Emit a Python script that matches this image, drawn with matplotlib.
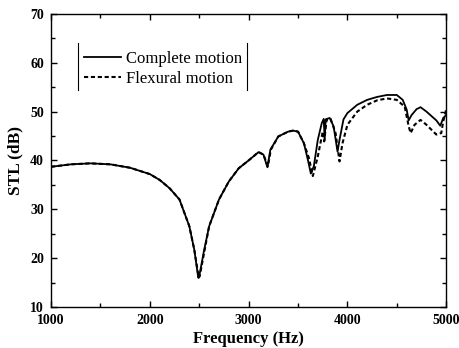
import matplotlib
matplotlib.use("Agg")
import matplotlib.pyplot as plt
from matplotlib.ticker import MultipleLocator
from matplotlib.lines import Line2D

# Complete motion
freq_c = [1000, 1200, 1400, 1600, 1800, 2000, 2100, 2200, 2300, 2400, 2450, 2490, 2500,
          2550, 2600, 2700, 2800, 2900, 3000, 3100, 3150, 3190, 3220, 3300, 3400, 3450,
          3500, 3560, 3600, 3630, 3660, 3700, 3740, 3760, 3770, 3780, 3820, 3860, 3900,
          3920, 3960, 4000, 4100, 4200, 4300, 4400, 4500, 4560, 4600, 4620, 4650, 4700,
          4740, 4800, 4900, 4940, 4970, 5000]
stl_c = [38.7, 39.2, 39.4, 39.2, 38.5, 37.2, 36.0, 34.3, 32.0, 26.5, 21.7, 16.0, 16.3,
         21.7, 26.5, 32.0, 35.7, 38.4, 40.0, 41.7, 41.2, 38.6, 42.2, 44.9, 45.9, 46.1,
         45.9, 43.5, 40.1, 37.3, 38.8, 44.2, 47.6, 48.5, 44.2, 48.4, 48.7, 47.0, 41.8,
         44.2, 48.4, 49.7, 51.4, 52.4, 53.0, 53.4, 53.4, 52.4, 50.4, 48.2, 49.3, 50.5,
         50.9, 50.0, 48.2, 47.1, 48.7, 49.3]

# Flexural motion
freq_f = [1000, 1200, 1400, 1600, 1800, 2000, 2100, 2200, 2300, 2400, 2450, 2495, 2505,
          2555, 2600, 2700, 2800, 2900, 3000, 3100, 3150, 3195, 3225, 3300, 3400, 3450,
          3500, 3560, 3610, 3650, 3700, 3750, 3765, 3790, 3830, 3880, 3920, 3950, 4000,
          4100, 4200, 4300, 4400, 4500, 4580, 4620, 4640, 4680, 4740, 4800, 4900, 4950,
          4970, 5000]
stl_f = [38.7, 39.2, 39.4, 39.2, 38.5, 37.2, 36.0, 34.3, 32.0, 26.5, 21.7, 16.0, 16.3,
         21.7, 26.5, 32.0, 35.7, 38.4, 40.0, 41.7, 41.2, 38.8, 42.2, 44.9, 45.9, 46.1,
         45.9, 43.5, 40.5, 36.8, 40.8, 45.9, 43.9, 48.4, 48.5, 45.6, 39.8, 43.5, 47.3,
         50.0, 51.4, 52.3, 52.7, 52.4, 51.0, 47.0, 45.6, 47.3, 48.3, 47.3, 45.3, 45.6,
         48.0, 50.4]

labels = ["Complete motion", "Flexural motion"]
x_ticks = [1000, 2000, 3000, 4000, 5000]
y_ticks = [10, 20, 30, 40, 50, 60, 70]

serif = ["Liberation Serif", "DejaVu Serif"]

fig = plt.figure(figsize=(4.6, 3.48), dpi=100)
ax = fig.add_axes([0.111, 0.118, 0.859, 0.842])

ax.plot(freq_c, stl_c, color="black", lw=1.3, ls="-", label=labels[0])
ax.plot(freq_f, stl_f, color="black", lw=1.5, ls=(0, (2.0, 1.3)), label=labels[1])

ax.set_xlim(1000, 5000)
ax.set_ylim(10, 70)
ax.set_xticks(x_ticks)
ax.set_yticks(y_ticks)
ax.xaxis.set_minor_locator(MultipleLocator(500))
ax.yaxis.set_minor_locator(MultipleLocator(5))
ax.tick_params(which="both", direction="in", top=True, right=True, width=1)
ax.tick_params(which="major", length=4)
ax.tick_params(which="minor", length=3)
ax.tick_params(axis="x", which="major", pad=5)
ax.tick_params(axis="y", which="major", pad=5)
for lab in ax.get_xticklabels() + ax.get_yticklabels():
    lab.set_fontfamily(serif)
    lab.set_fontweight("bold")
    lab.set_fontsize(10)
for sp in ax.spines.values():
    sp.set_linewidth(1.0)

ax.set_xlabel("Frequency (Hz)", fontfamily=serif, fontweight="bold", fontsize=12, labelpad=3)
ax.set_ylabel("STL (dB)", fontfamily=serif, fontweight="bold", fontsize=12.5, labelpad=5)

leg = ax.legend(loc="upper left", bbox_to_anchor=(0.0835, 0.875), frameon=False,
                prop={"family": serif, "size": 12}, handlelength=2.2,
                handletextpad=0.3, labelspacing=0.28, borderpad=0, borderaxespad=0)

# Legend side bars (left and right borders only)
ax.add_line(Line2D([0.068, 0.068], [0.741, 0.901], transform=ax.transAxes, color="black", lw=0.8))
ax.add_line(Line2D([0.496, 0.496], [0.741, 0.901], transform=ax.transAxes, color="black", lw=0.8))

fig.savefig("out.png", dpi=100)
